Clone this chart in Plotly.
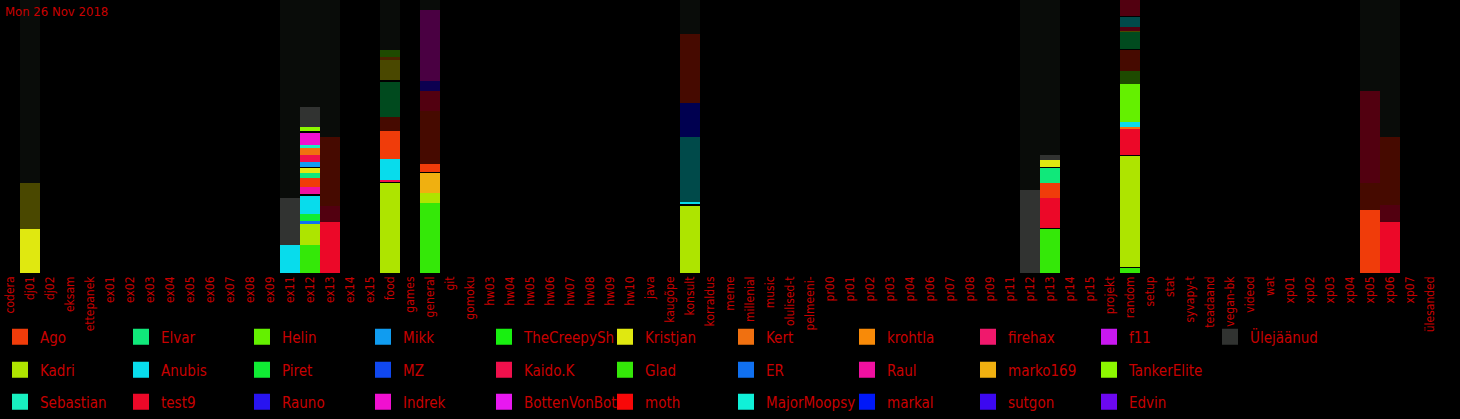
import plotly.graph_objects as go

# ---------------- data ----------------
channels = ["codera", "dj01", "dj02", "eksam", "ettepanek", "ex01", "ex02", "ex03", "ex04", "ex05",
            "ex06", "ex07", "ex08", "ex09", "ex11", "ex12", "ex13", "ex14", "ex15", "food",
            "games", "general", "git", "gomoku", "hw03", "hw04", "hw05", "hw06", "hw07", "hw08",
            "hw09", "hw10", "java", "kaugõpe", "konsult", "korraldus", "meme", "millenial", "music",
            "olulised-t", "pelmeeni-", "pr00", "pr01", "pr02", "pr03", "pr04", "pr06", "pr07", "pr08",
            "pr09", "pr11", "pr12", "pr13", "pr14", "pr15", "projekt", "random", "setup", "stat",
            "syvapy-t", "teadaand", "vegan-bk", "videod", "wat", "xp01", "xp02", "xp03", "xp04",
            "xp05", "xp06", "xp07", "ülesanded"]

# stacked segments per active channel, bottom -> top (user / "_old" = earlier activity, "rest" = remainder)
dj01 = [("Kristjan", 44), ("Kristjan_old", 46), ("rest", 183)]
ex11 = [("Anubis", 28), ("Ülejäänud", 47), ("rest", 198)]
ex12 = [("Glad", 28), ("Kadri", 21), ("ER", 3), ("Piret", 7), ("Anubis", 18), ("sep", 2),
        ("Raul", 7.5), ("Ago", 9), ("Elvar", 5), ("Kristjan", 5), ("sep", 1), ("Mikk", 5),
        ("Kaido.K", 7), ("Kert", 7), ("Sebastian", 3), ("Indrek", 12), ("sep", 2),
        ("TankerElite", 4), ("Ülejäänud", 20), ("rest", 106.5)]
ex13 = [("test9", 51), ("test9_old", 16), ("Ago_old", 69), ("rest", 137)]
food = [("Kadri", 90), ("sep", 1.5), ("Kaido.K", 2), ("Anubis", 21), ("Ago", 28), ("Ago_old", 14),
        ("Elvar_old", 35), ("sep", 1), ("Kristjan_old", 21), ("Kert_old", 3), ("Helin_old", 7),
        ("rest", 49.5)]
general = [("Glad", 70), ("Kadri", 10), ("marko169", 20), ("sep", 1), ("Ago", 8), ("Ago_old", 53),
           ("test9_old", 20), ("Rauno_old", 10), ("Indrek_old", 71), ("rest", 10)]
konsult = [("Kadri", 67), ("sep", 1.5), ("Anubis", 3), ("Anubis_old", 65), ("markal_old", 34),
           ("Ago_old", 69), ("rest", 33.5)]
pr12 = [("Ülejäänud", 83), ("rest", 190)]
pr13 = [("Glad", 44), ("sep", 1), ("test9", 30), ("Ago", 15), ("Elvar", 15), ("sep", 1),
        ("Kristjan", 7), ("Ülejäänud", 5), ("rest", 155)]
random_ch = [("Glad", 5), ("sep", 1), ("Kadri", 111), ("sep", 1), ("test9", 26), ("Kert", 2),
             ("Anubis", 5), ("Helin", 38), ("Helin_old", 13), ("Ago_old", 21), ("sep", 1),
             ("Elvar_old", 17), ("Kristjan_old", 1), ("test9_old", 4), ("Anubis_old", 10),
             ("sep", 1), ("test9_old", 16)]
xp05 = [("Ago", 63), ("Ago_old", 27), ("test9_old", 92), ("rest", 91)]
xp06 = [("test9", 51), ("test9_old", 17), ("Ago_old", 68), ("rest", 137)]

active = {"dj01": dj01, "ex11": ex11, "ex12": ex12, "ex13": ex13, "food": food,
          "general": general, "konsult": konsult, "pr12": pr12, "pr13": pr13,
          "random": random_ch, "xp05": xp05, "xp06": xp06}

legend_row1 = ["Ago", "Elvar", "Helin", "Mikk", "TheCreepySh", "Kristjan", "Kert", "krohtla",
               "firehax", "f11", "Ülejäänud"]
legend_row2 = ["Kadri", "Anubis", "Piret", "MZ", "Kaido.K", "Glad", "ER", "Raul", "marko169",
               "TankerElite"]
legend_row3 = ["Sebastian", "test9", "Rauno", "Indrek", "BottenVonBot", "moth", "MajorMoopsy",
               "markal", "sutgon", "Edvin"]

user_colors = {
    "Ago": "#f03c0a", "Elvar": "#10e87a", "Helin": "#64f000", "Mikk": "#109cf0",
    "TheCreepySh": "#18f010", "Kristjan": "#e0e810", "Kert": "#f07010", "krohtla": "#f88a08",
    "firehax": "#f0186c", "f11": "#c818f0", "Ülejäänud": "#313331",
    "Kadri": "#aee400", "Anubis": "#08dcec", "Piret": "#10ec34", "MZ": "#1048f0",
    "Kaido.K": "#f0104c", "Glad": "#34e808", "ER": "#1070f0", "Raul": "#f010a0",
    "marko169": "#f0b010", "TankerElite": "#8cf800",
    "Sebastian": "#18f0c0", "test9": "#ec0828", "Rauno": "#2814f0", "Indrek": "#f010d0",
    "BottenVonBot": "#e818f0", "moth": "#f80808", "MajorMoopsy": "#10f0d8", "markal": "#0018f8",
    "sutgon": "#3c08f0", "Edvin": "#6c08f0",
}
extra_colors = {
    "Kristjan_old": "#4a4800", "test9_old": "#520010", "Ago_old": "#460a00",
    "Elvar_old": "#004a1e", "Kert_old": "#4a2400", "Helin_old": "#1e4a00",
    "Anubis_old": "#004a4a", "markal_old": "#000050", "Rauno_old": "#0c0050",
    "Indrek_old": "#4a0042", "rest": "#090c09", "sep": "#000000",
}

title_text = "Mon 26 Nov 2018"
y_max = 273

# ---------------- figure ----------------
FONT = "Liberation Sans Narrow, DejaVu Sans Condensed, Arial Narrow, sans-serif"
RED = "#c80000"

fig = go.Figure()

# group segments into traces by (key, occurrence within bar)
traces = {}
for ch, segs in active.items():
    idx = channels.index(ch)
    base = 0
    seen = {}
    for key, val in segs:
        occ = seen.get(key, 0)
        seen[key] = occ + 1
        t = traces.setdefault((key, occ), {"y": [None] * len(channels), "base": [None] * len(channels)})
        t["y"][idx] = val
        t["base"][idx] = base
        base += val

for (key, occ), t in traces.items():
    color = user_colors.get(key, extra_colors.get(key))
    fig.add_trace(go.Bar(
        x=channels, y=t["y"], base=t["base"], name=key, width=1.0,
        marker=dict(color=color, line=dict(width=0)), showlegend=False,
        hoverinfo="x+y+name",
    ))

# legend entries (three rows, one legend each)
for lg, row in (("legend", legend_row1), ("legend2", legend_row2), ("legend3", legend_row3)):
    for name in row:
        fig.add_trace(go.Scatter(
            x=[None], y=[None], mode="markers", name=name, legend=lg,
            marker=dict(symbol="square", size=16, color=user_colors[name]),
            showlegend=True,
        ))

plot_h = y_max
legend_common = dict(orientation="h", x=0.0, xanchor="left", yanchor="middle",
                     bgcolor="rgba(0,0,0,0)", borderwidth=0, itemsizing="trace",
                     entrywidth=76, entrywidthmode="pixels", traceorder="normal",
                     font=dict(family=FONT, size=15, color=RED), itemclick=False)

fig.update_layout(
    width=1460, height=419,
    paper_bgcolor="#000000", plot_bgcolor="#000000",
    margin=dict(l=0, r=20, t=0, b=146, autoexpand=False),
    barmode="overlay", bargap=0,
    showlegend=True,
    legend=dict(legend_common, y=-(337 - 273) / plot_h),
    legend2=dict(legend_common, y=-(370 - 273) / plot_h),
    legend3=dict(legend_common, y=-(402 - 273) / plot_h),
    xaxis=dict(type="category", categoryorder="array", categoryarray=channels,
               range=[-0.5, len(channels) - 0.5], showgrid=False, zeroline=False,
               showline=False, ticks="", tickangle=-90,
               tickfont=dict(family=FONT, size=12, color=RED), fixedrange=True),
    yaxis=dict(range=[0, y_max], showgrid=False, zeroline=False, showline=False,
               showticklabels=False, ticks="", fixedrange=True),
    annotations=[dict(text=title_text, xref="paper", yref="paper", x=0, y=1,
                      xanchor="left", yanchor="top", xshift=3, yshift=-2, showarrow=False,
                      font=dict(family=FONT, size=13, color=RED))],
)

fig.write_html(
    "out.html",
    config={"displayModeBar": False},
    post_script="document.body.style.margin='0';document.body.style.background='#000';",
)
